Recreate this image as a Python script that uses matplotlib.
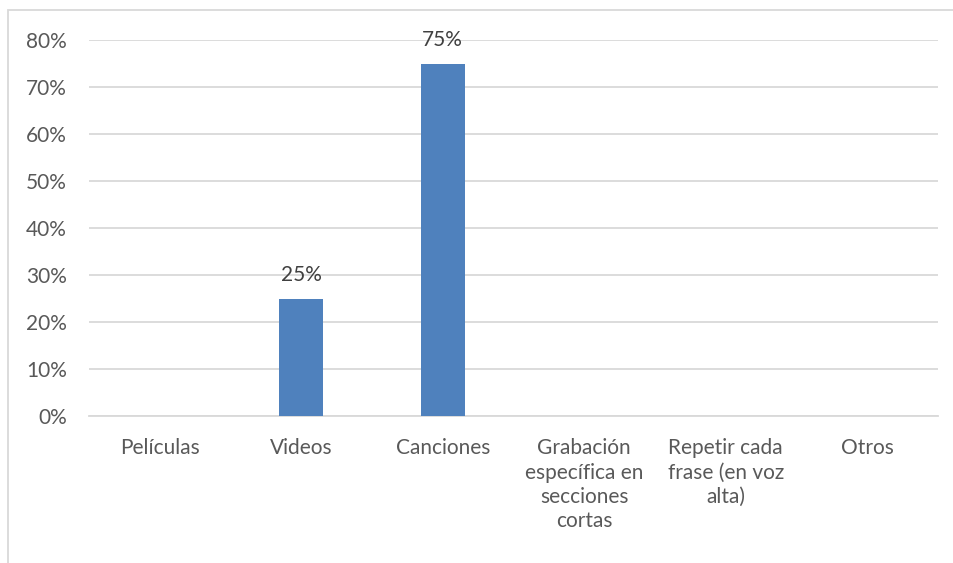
import matplotlib.pyplot as plt
from matplotlib.patches import Rectangle
import numpy as np

# Datos
categories = ["Películas", "Videos", "Canciones",
              "Grabación\nespecífica en\nsecciones\ncortas",
              "Repetir cada\nfrase (en voz\nalta)", "Otros"]
values = [0, 0.25, 0.75, 0, 0, 0]
labels = ["", "25%", "75%", "", "", ""]
yticks = [0, 0.1, 0.2, 0.3, 0.4, 0.5, 0.6, 0.7, 0.8]

TEXT = "#595959"
BAR = "#4F81BD"
GRID = "#D9D9D9"
FS = 15

plt.rcParams['font.family'] = ['Lato', 'DejaVu Sans']

fig = plt.figure(figsize=(9.54, 5.63), dpi=100)
ax = fig.add_axes([89 / 954, 147 / 563, 849 / 954, 376 / 563])

# marco del gráfico
fig.patches.append(Rectangle((8 / 954, -0.1), 1.2, (563 - 10) / 563 + 0.1,
                             transform=fig.transFigure, fill=False,
                             edgecolor=GRID, linewidth=1.3))

x = np.arange(len(categories))
bars = ax.bar(x, values, width=0.31, color=BAR, zorder=3)
for b, lab in zip(bars, labels):
    if lab:
        ax.annotate(lab, (b.get_x() + b.get_width() / 2, b.get_height()),
                    xytext=(0, 10), textcoords="offset points",
                    ha="center", va="bottom", fontsize=FS, color="#404040")

ax.set_xlim(-0.5, len(categories) - 0.5)
ax.set_ylim(0, 0.8)
ax.set_yticks(yticks)
ax.set_yticklabels([f"{int(round(t * 100))}%" for t in yticks])
ax.set_xticks(x)
ax.set_xticklabels(categories, linespacing=1.27)
ax.tick_params(axis="both", length=0, labelsize=FS, colors=TEXT)
ax.tick_params(axis="y", pad=16)
ax.tick_params(axis="x", pad=16)
ax.yaxis.grid(True, color=GRID, linewidth=1.3, zorder=0)
for s in ["top", "right", "left"]:
    ax.spines[s].set_visible(False)
ax.spines["bottom"].set_color(GRID)
ax.spines["bottom"].set_linewidth(1.3)

plt.savefig("out.png", dpi=100)
